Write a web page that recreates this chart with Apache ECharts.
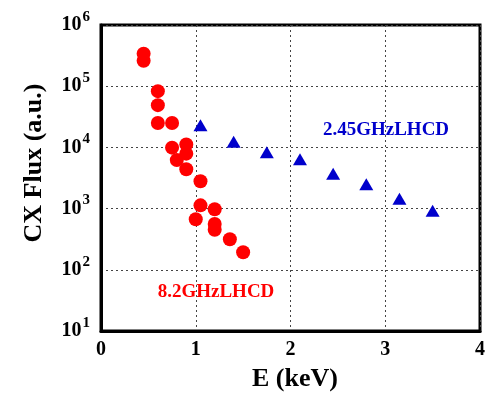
<!DOCTYPE html>
<html>
<head>
<meta charset="utf-8">
<script src="https://cdn.jsdelivr.net/npm/echarts@6/dist/echarts.min.js"></script>
<style>
html, body { margin: 0; padding: 0; background: #fff; }
#main { width: 488px; height: 399px; }
</style>
</head>
<body>
<div id="main"></div>
<script>
// 8.2GHz LHCD (red circles): [E keV, flux]
var lhcd82 = [
	[0.45, 3.4e5], [0.45, 2.6e5], [0.6, 8.3e4], [0.6, 4.9e4], [0.6, 2.5e4],
	[0.75, 2.5e4], [0.75, 9.9e3], [0.9, 1.12e4], [0.9, 7.9e3], [0.8, 6.2e3],
	[0.9, 4.4e3], [1.05, 2.8e3], [1.05, 1.13e3], [1.2, 975], [1.0, 670],
	[1.2, 560], [1.2, 450], [1.36, 315], [1.5, 193]
];
// 2.45GHz LHCD (blue triangles)
var lhcd245 = [
	[1.05, 2.3e4], [1.4, 1.24e4], [1.75, 8.3e3], [2.1, 6.4e3],
	[2.45, 3.7e3], [2.8, 2.5e3], [3.15, 1.45e3], [3.5, 925]
];
var xTicks = [0, 1, 2, 3, 4];
var yMin = 10, yMax = 1e6;

var serif = 'Liberation Serif';
var chart = echarts.init(document.getElementById('main'));

var dotted = { color: '#444', width: 1, type: [2, 3] };

var option = {
	animation: false,
	grid: { left: 101, right: 4, top: 25, bottom: 68, show: true, borderColor: '#000', borderWidth: 3 },
	xAxis: {
		type: 'value', min: xTicks[0], max: xTicks[xTicks.length - 1], interval: 1,
		axisLine: { show: true, lineStyle: { color: '#000', width: 3 } },
		axisTick: { show: false },
		splitLine: { show: true, lineStyle: dotted },
		axisLabel: { margin: 9, color: '#000', fontFamily: serif, fontWeight: 'bold', fontSize: 20 }
	},
	yAxis: {
		type: 'log', logBase: 10, min: yMin, max: yMax,
		axisLine: { show: true, lineStyle: { color: '#000', width: 3 } },
		axisTick: { show: false },
		minorTick: { show: false },
		splitLine: { show: true, lineStyle: dotted },
		axisLabel: {
			margin: 11, color: '#000',
			formatter: function (v) {
				var e = Math.round(Math.log(v) / Math.LN10);
				return '{b|10}{s|' + e + '}';
			},
			rich: {
				b: { fontFamily: serif, fontWeight: 'bold', fontSize: 20, color: '#000', padding: [0, 0, 0, 0] },
				s: { fontFamily: serif, fontWeight: 'bold', fontSize: 15, color: '#000', padding: [0, 0, 16, 1] }
			}
		}
	},
	graphic: [
		{
			type: 'text', x: 34, y: 163, rotation: Math.PI / 2,
			style: { text: 'CX Flux (a.u.)', fill: '#000', font: 'bold 26px "Liberation Serif"', align: 'center', verticalAlign: 'middle' }
		},
		{
			type: 'text', x: 295, y: 379,
			style: { text: 'E (keV)', fill: '#000', font: 'bold 26px "Liberation Serif"', align: 'center', verticalAlign: 'middle' }
		},
		{
			type: 'text', x: 386, y: 130,
			style: { text: '2.45GHzLHCD', fill: '#0000CC', font: 'bold 19px "Liberation Serif"', align: 'center', verticalAlign: 'middle' }
		},
		{
			type: 'text', x: 216, y: 292,
			style: { text: '8.2GHzLHCD', fill: '#FF0000', font: 'bold 19px "Liberation Serif"', align: 'center', verticalAlign: 'middle' }
		}
	],
	series: [
		{
			name: '8.2GHzLHCD', type: 'scatter', symbol: 'circle', symbolSize: 14,
			itemStyle: { color: '#FF0000', opacity: 1 },
			data: lhcd82
		},
		{
			name: '2.45GHzLHCD', type: 'scatter', symbol: 'triangle', symbolSize: [14, 12],
			itemStyle: { color: '#0000CC', opacity: 1 },
			data: lhcd245
		}
	]
};
chart.setOption(option);
</script>
</body>
</html>
